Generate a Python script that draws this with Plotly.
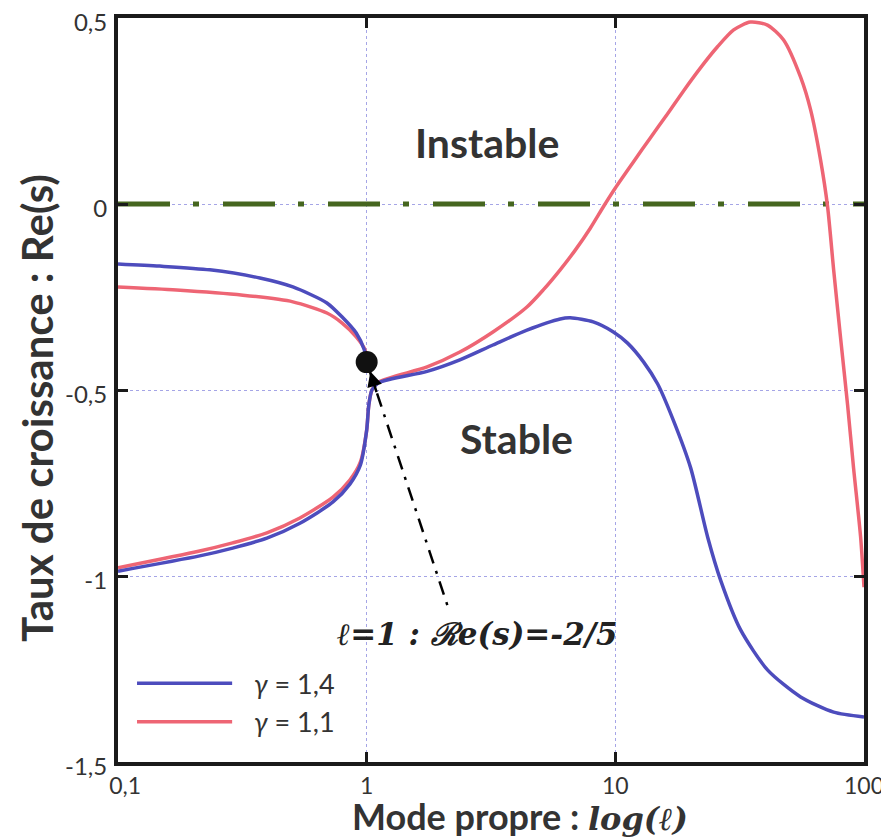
import math
import plotly.graph_objects as go

# ---------------- data ----------------
# gamma = 1,4 (blue)
g14_up_l = [0.1, 0.147, 0.234, 0.372, 0.505, 0.692, 0.797, 0.908, 0.978, 1.0]
g14_up_re = [-0.161, -0.167, -0.177, -0.199, -0.223, -0.266, -0.304, -0.347, -0.392, -0.425]
g14_lo_l = [0.1, 0.213, 0.289, 0.397, 0.539, 0.732, 0.856, 0.943, 1.0, 1.02, 1.05, 1.12,
            1.75, 2.37, 3.22, 4.41, 6.0, 6.59, 8.15, 9.82, 11.2, 13.0, 14.8, 17.1,
            20.1, 23.5, 26.5, 31.9, 41.0, 55.6, 75.5, 100]
g14_lo_re = [-0.987, -0.946, -0.925, -0.898, -0.858, -0.801, -0.753, -0.702, -0.608, -0.54,
             -0.5, -0.48, -0.45, -0.419, -0.379, -0.339, -0.309, -0.306, -0.317, -0.344,
             -0.374, -0.425, -0.484, -0.581, -0.71, -0.895, -1.011, -1.145, -1.253,
             -1.325, -1.366, -1.379]

# gamma = 1,1 (red)
g11_up_l = [0.1, 0.172, 0.318, 0.505, 0.692, 0.797, 0.908, 0.985, 1.0]
g11_up_re = [-0.223, -0.231, -0.245, -0.263, -0.293, -0.32, -0.357, -0.392, -0.425]
g11_lo_l = [0.1, 0.213, 0.289, 0.397, 0.539, 0.732, 0.856, 0.943, 1.0, 1.02, 1.05, 1.12,
            1.75, 2.37, 3.22, 4.41, 5.13, 6.0, 6.9, 7.93, 8.94, 10, 11.82, 13.8, 16.2,
            18.8, 22.0, 25.7, 29.9, 34.9, 40.9, 47.5, 55.6, 61.0, 66.9, 71.4, 75.5, 80.5,
            85.9, 90.8, 96.9, 100]
g11_lo_re = [-0.978, -0.933, -0.911, -0.884, -0.844, -0.788, -0.742, -0.694, -0.608, -0.54,
             -0.5, -0.478, -0.438, -0.398, -0.344, -0.277, -0.231, -0.177, -0.124, -0.065,
             -0.008, 0.043, 0.113, 0.177, 0.242, 0.304, 0.366, 0.422, 0.468, 0.489, 0.481,
             0.441, 0.341, 0.253, 0.118, -0.008, -0.177, -0.36, -0.54, -0.71, -0.895, -1.03]

# marginal stability line Re(s) = 0
zero_l = [0.1, 100]
zero_re = [0, 0]

# merge point l=1 : Re(s) = -2/5
point_l = [1.0]
point_re = [-0.425]
pointer_l = [1.0, 2.11]
pointer_re = [-0.425, -1.078]

x_ticks = [0.1, 1, 10, 100]
x_ticktext = ["\u2002\u20090,1", "1", "10", "100"]
y_ticks = [-1.5, -1, -0.5, 0, 0.5]
y_ticktext = ["-1,5", "-1", "-0,5", "0", "0,5"]

BLUE = "#4d4cbd"
RED = "#ee6574"
GREEN = "#46661f"
TXT = "#333333"

fig = go.Figure()

fig.add_trace(go.Scatter(x=zero_l, y=zero_re, mode="lines", showlegend=False,
                         line=dict(color=GREEN, width=5, dash="52px,23px,6px,24px")))

for xs, ys, col, nm in [(g11_up_l, g11_up_re, RED, "γ = 1,1"),
                        (g11_lo_l, g11_lo_re, RED, "γ = 1,1"),
                        (g14_up_l, g14_up_re, BLUE, "γ = 1,4"),
                        (g14_lo_l, g14_lo_re, BLUE, "γ = 1,4")]:
    fig.add_trace(go.Scatter(x=xs, y=ys, mode="lines", name=nm, showlegend=False,
                             line=dict(color=col, width=3.5, shape="spline", smoothing=0.7)))

fig.add_trace(go.Scatter(x=pointer_l, y=pointer_re, mode="lines", showlegend=False,
                         line=dict(color="black", width=2.5, dash="14px,8px,3px,8px")))
fig.add_trace(go.Scatter(x=point_l, y=point_re, mode="markers", showlegend=False,
                         marker=dict(color="#111111", size=22)))

# small arrow head at the point
fig.add_annotation(x=math.log10(1.035), y=-0.45, ax=math.log10(1.1), ay=-0.51,
                   xref="x", yref="y", axref="x", ayref="y", text="",
                   showarrow=True, arrowhead=2, arrowsize=1.2, arrowwidth=2.5,
                   arrowcolor="black")

fig.add_annotation(x=math.log10(3.05), y=0.166, xref="x", yref="y", showarrow=False,
                   xanchor="center", yanchor="middle",
                   text="<b>Instable</b>", font=dict(family="Lato", size=41, color=TXT))
fig.add_annotation(x=math.log10(3.99), y=-0.63, xref="x", yref="y", showarrow=False,
                   xanchor="center", yanchor="middle",
                   text="<b>Stable</b>", font=dict(family="Lato", size=41, color=TXT))
fig.add_annotation(x=math.log10(2.78), y=-1.156, xref="x", yref="y", showarrow=False,
                   xanchor="center", yanchor="middle",
                   text="<b><i>ℓ=1 : ℛe(s)=-2/5</i></b>",
                   font=dict(family="DejaVu Serif", size=31, color="#222222"))

# legend (drawn manually for long line samples)
for yp, col, lab in [(0.106, BLUE, "1,4"), (0.054, RED, "1,1")]:
    fig.add_shape(type="line", xref="paper", yref="paper", x0=0.0255, x1=0.153,
                  y0=yp, y1=yp, line=dict(color=col, width=3.5))
    fig.add_annotation(x=0.18, y=yp, xref="paper", yref="paper", xanchor="left",
                       yanchor="middle", showarrow=False, text="<i>γ</i> = " + lab,
                       font=dict(family="Lato", size=27, color=TXT))

# axis titles
fig.add_annotation(x=-0.1086, y=0.476, xref="paper", yref="paper", showarrow=False,
                   xanchor="center", yanchor="middle",
                   textangle=-90, text="<b>Taux de croissance : Re(s)</b>",
                   font=dict(family="Lato", size=42, color=TXT))
fig.add_annotation(x=0.311, y=-0.0725, xref="paper", yref="paper", showarrow=False,
                   xanchor="left", yanchor="middle",
                   text="<b>Mode propre : </b><span style=\"font-family:'DejaVu Serif';font-style:italic;font-weight:bold;font-size:32px\">log(ℓ)</span>",
                   font=dict(family="Lato", size=36, color=TXT))

axis_common = dict(showline=True, linewidth=4, linecolor="#1a1a1a", mirror="ticks",
                   ticks="inside", ticklen=10, tickwidth=3, tickcolor="#1a1a1a",
                   showgrid=True, gridcolor="#a5a5e6", gridwidth=1, griddash="dot",
                   zeroline=False, automargin=False, ticklabeloverflow="allow",
                   tickfont=dict(family="Lato", size=24, color=TXT))

fig.update_xaxes(type="log", range=[-1, 2], tickvals=x_ticks, ticktext=x_ticktext,
                 ticklabelstandoff=0, **axis_common)
fig.update_xaxes(tickfont=dict(family="Lato", size=23, color=TXT))
fig.update_yaxes(range=[-1.5, 0.5], tickvals=y_ticks, ticktext=y_ticktext,
                 ticklabelstandoff=2, ticklabelshift=5, **axis_common)

# the page body adds an 8px offset, so the figure is sized to fit the window
fig.update_layout(width=881, height=829, margin=dict(l=110, r=25, t=10, b=75),
                  plot_bgcolor="white", paper_bgcolor="white", showlegend=False)

fig.write_html("out.html")
